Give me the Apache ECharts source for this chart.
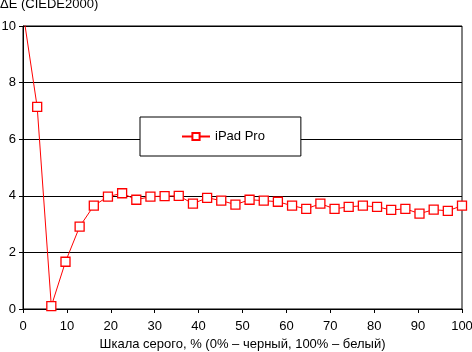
<!DOCTYPE html>
<html><head><meta charset="utf-8">
<script src="https://cdn.jsdelivr.net/npm/echarts@6/dist/echarts.min.js"></script>
<style>html,body{margin:0;padding:0;background:#fff}#c{width:472px;height:352px}</style>
</head><body><div id="c"></div>
<script>
// 32 grey levels, 0..100 %
const xPercent = [0,3.23,6.45,9.68,12.9,16.13,19.35,22.58,25.81,29.03,32.26,35.48,38.71,41.94,45.16,48.39,51.61,54.84,58.06,61.29,64.52,67.74,70.97,74.19,77.42,80.65,83.87,87.1,90.32,93.55,96.77,100];
const deltaE = [10.5,7.14,0.1,1.67,2.91,3.65,3.97,4.09,3.86,3.97,3.99,4.0,3.72,3.93,3.83,3.69,3.86,3.83,3.79,3.65,3.54,3.72,3.54,3.61,3.65,3.61,3.5,3.54,3.37,3.51,3.47,3.65];
const seriesName = 'iPad Pro';
const yTitle = 'ΔE (CIEDE2000)';
const xTitle = 'Шкала серого, % (0% – черный, 100% – белый)';
const FONT = 'Arial, "Liberation Sans", sans-serif';

const chart = echarts.init(document.getElementById('c'), null, {renderer:'canvas'});
chart.setOption({
  animation:false,
  backgroundColor:'#fff',
  textStyle:{fontFamily:FONT},
  grid:{left:23,right:10,top:26,bottom:43,outerBoundsMode:'none',containLabel:false,show:true,borderColor:'#000',borderWidth:1,backgroundColor:'transparent'},
  graphic:[{type:'text',left:0,top:-2,style:{text:yTitle,fontSize:13,fontFamily:FONT,fill:'#000'}}],
  legend:{
    left:140,top:117,orient:'horizontal',
    backgroundColor:'#fff',borderColor:'#000',borderWidth:1,
    padding:[13,36,13,41],itemWidth:28,itemHeight:9,itemGap:0,
    textStyle:{fontSize:13,fontFamily:FONT,color:'#000'},
    data:[{name:seriesName}]
  },
  xAxis:{
    type:'value',min:0,max:100,interval:10,
    name:xTitle,nameLocation:'middle',nameGap:29,
    nameTextStyle:{fontSize:13,fontFamily:FONT,color:'#000'},
    axisLine:{show:true,lineStyle:{color:'#000',width:1}},
    axisTick:{show:true,length:4,lineStyle:{color:'#000'}},
    axisLabel:{fontSize:13,fontFamily:FONT,color:'#000',margin:11},
    splitLine:{show:false}
  },
  yAxis:{
    type:'value',min:0,max:10,interval:2,
    axisLine:{show:true,lineStyle:{color:'#000',width:1}},
    axisTick:{show:true,length:4,lineStyle:{color:'#000'}},
    axisLabel:{fontSize:13,fontFamily:FONT,color:'#000',margin:7},
    splitLine:{show:true,lineStyle:{color:'#000',width:1}}
  },
  series:[{
    name:seriesName,type:'line',clip:true,
    data:xPercent.map((x,i)=>[x,deltaE[i]]),
    symbol:'rect',symbolSize:9,showAllSymbol:true,
    lineStyle:{color:'#ff0000',width:1},
    itemStyle:{color:'#fff',borderColor:'#ff0000',borderWidth:1.3}
  }]
});
</script></body></html>
